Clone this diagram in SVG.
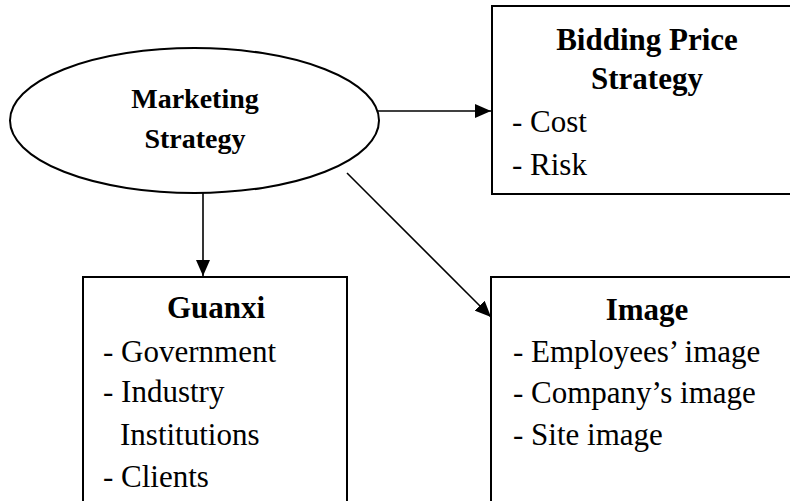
<svg xmlns="http://www.w3.org/2000/svg" width="790" height="501" viewBox="0 0 790 501">
<defs>
<style>
.box{fill:#fff;stroke:#000;stroke-width:2}
.t{font-family:"Liberation Serif","Times New Roman",serif;fill:#000;font-size:31px}
.b{font-weight:bold;text-anchor:middle}
.m{font-size:28px}
.c{stroke:#000;stroke-width:1.6;fill:none}
</style>
<marker id="ah" viewBox="0 0 16 14" refX="16" refY="7" markerWidth="16" markerHeight="14" markerUnits="userSpaceOnUse" orient="auto">
<path d="M0,0 L16,7 L0,14 Z" fill="#000"/>
</marker>
</defs>
<rect width="790" height="501" fill="#fff"/>
<g id="connectors">
<line class="c" x1="371" y1="111" x2="491" y2="111" marker-end="url(#ah)"/>
<line class="c" x1="203" y1="193" x2="203" y2="276" marker-end="url(#ah)"/>
<line class="c" x1="347" y1="173" x2="491" y2="317" marker-end="url(#ah)"/>
</g>
<g id="marketing">
<ellipse class="box" cx="194.5" cy="120.5" rx="184.5" ry="72.5"/>
<text class="t b m" x="195" y="108">Marketing</text>
<text class="t b m" x="195" y="148">Strategy</text>
</g>
<g id="bidding">
<rect class="box" x="492" y="6" width="310" height="188"/>
<text class="t b" x="647" y="50">Bidding Price</text>
<text class="t b" x="647" y="89">Strategy</text>
<text class="t" x="512" y="132">- Cost</text>
<text class="t" x="512" y="175">- Risk</text>
</g>
<g id="guanxi">
<rect class="box" x="83" y="277" width="264" height="240"/>
<text class="t b" x="216" y="318">Guanxi</text>
<text class="t" x="103" y="362">- Government</text>
<text class="t" x="103" y="402">- Industry</text>
<text class="t" x="120" y="445">Institutions</text>
<text class="t" x="103" y="487">- Clients</text>
</g>
<g id="image">
<rect class="box" x="491" y="277" width="310" height="240"/>
<text class="t b" x="647" y="320">Image</text>
<text class="t" x="513" y="362">- Employees’ image</text>
<text class="t" x="513" y="403">- Company’s image</text>
<text class="t" x="513" y="445">- Site image</text>
</g>
</svg>
